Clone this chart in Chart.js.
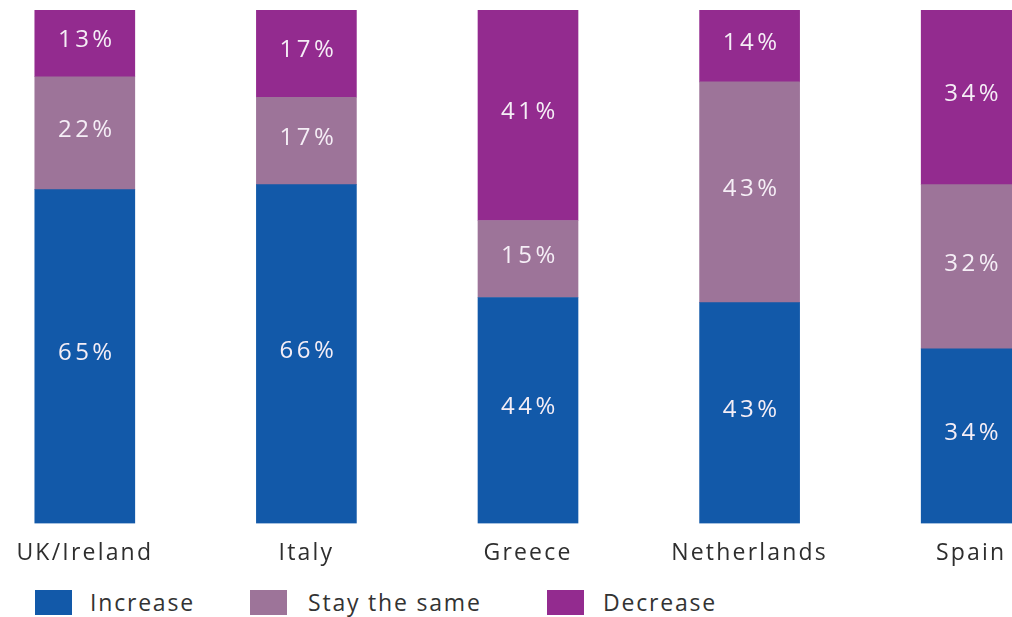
<!DOCTYPE html>
<html>
<head>
<meta charset="utf-8">
<script src="https://cdn.jsdelivr.net/npm/chart.js@4.4.1/dist/chart.umd.min.js"></script>
<style>
  html, body { margin: 0; padding: 0; background: #fff; overflow: hidden; }
  body { width: 1012px; height: 617px; position: relative; }
  #wrap { position: absolute; left: -26px; top: 0; width: 1108px; height: 583px; }
  .leg { position: absolute; top: 590px; font-family: "Open Sans", sans-serif; font-size: 23px; color: #333; letter-spacing: 1.8px; }
  .leg .box { position: absolute; top: 0; width: 37px; height: 25px; }
  .leg .txt { position: absolute; top: -4px; white-space: nowrap; }
</style>
</head>
<body>
<div id="wrap"><canvas id="grafico"></canvas></div>
<div class="leg" id="legenda"></div>

<script>
// Dados do gráfico
const paises = ['UK/Ireland', 'Italy', 'Greece', 'Netherlands', 'Spain'];
const aumento = [65, 66, 44, 43, 34];
const igual = [22, 17, 15, 43, 32];
const diminui = [13, 17, 41, 14, 34];
const series = ['Increase', 'Stay the same', 'Decrease'];

const cores = ['#1259a9', '#9d7499', '#932b8f'];

// Rótulos de valor no meio de cada segmento
const rotulos = {
  id: 'rotulos',
  afterDatasetsDraw(chart) {
    const ctx = chart.ctx;
    ctx.save();
    ctx.font = '24px "Open Sans", sans-serif';
    ctx.letterSpacing = '3.5px';
    ctx.fillStyle = '#f5eef6';
    ctx.textAlign = 'center';
    ctx.textBaseline = 'middle';
    chart.data.datasets.forEach((ds, i) => {
      chart.getDatasetMeta(i).data.forEach((bar, j) => {
        ctx.fillText(ds.data[j] + '%', bar.x + 2, (bar.y + bar.base) / 2 - 3);
      });
    });
    ctx.restore();
  }
};

// Espaçamento das letras nos rótulos do eixo
const espaco = {
  id: 'espaco',
  beforeDraw(chart) { chart.ctx.letterSpacing = '2.2px'; }
};

const grafico = new Chart(document.getElementById('grafico').getContext('2d'), {
  type: 'bar',
  data: {
    labels: paises,
    datasets: [
      { label: series[0], data: aumento, backgroundColor: cores[0] },
      { label: series[1], data: igual, backgroundColor: cores[1] },
      { label: series[2], data: diminui, backgroundColor: cores[2] }
    ]
  },
  options: {
    responsive: true,
    maintainAspectRatio: false,
    animation: false,
    layout: { padding: { top: 10, bottom: 0, left: 0, right: 0 } },
    datasets: { bar: { barThickness: 100 } },
    plugins: { legend: { display: false }, tooltip: { enabled: false } },
    scales: {
      x: {
        stacked: true,
        grid: { display: false, drawTicks: false },
        border: { display: false },
        ticks: {
          padding: 16,
          color: '#2e2e2e',
          font: { family: '"Open Sans", sans-serif', size: 23 }
        }
      },
      y: { stacked: true, display: false, min: 0, max: 100 }
    }
  },
  plugins: [rotulos, espaco]
});

// Legenda em HTML
const posLeg = [[35, 90], [250, 308], [547, 603]];
const legenda = document.getElementById('legenda');
series.forEach((s, i) => {
  const b = document.createElement('div');
  b.className = 'box';
  b.style.left = posLeg[i][0] + 'px';
  b.style.background = cores[i];
  const t = document.createElement('div');
  t.className = 'txt';
  t.style.left = posLeg[i][1] + 'px';
  t.textContent = s;
  legenda.appendChild(b);
  legenda.appendChild(t);
});
</script>
</body>
</html>
